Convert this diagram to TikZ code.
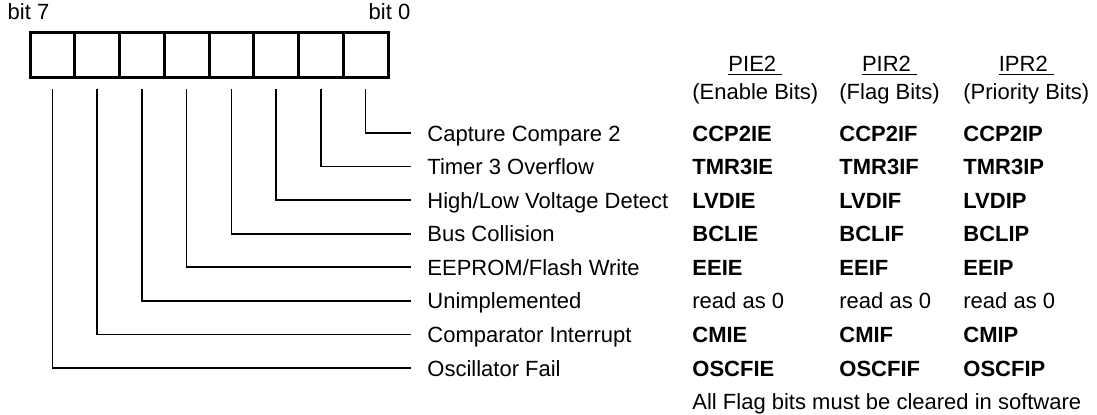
\documentclass[tikz,border=0pt]{standalone}
\usepackage{fontspec}
\setmainfont{Liberation Sans}
\usetikzlibrary{positioning}

\begin{document}
\begin{tikzpicture}[x=0.5pt,y=-0.5pt,
 every node/.style={font=\fontsize{11}{13}\selectfont,inner sep=0pt,
   text height=8pt,text depth=0pt},
 bitcell/.style={draw,line width=1.5pt,minimum width=22.375pt,minimum height=22.5pt},
 what/.style={anchor=west,inner xsep=8pt},
 flag/.style={anchor=west,font=\fontsize{11}{13}\selectfont\bfseries},
 wire/.style={line width=0.8pt}]
    \useasboundingbox (0,0) rectangle (1097,414);
    \foreach \b in {0,...,7}
        \node[bitcell] (c\b) at ({388-44.75*(\b+0.5)},54.5) {};
    \node[above=5.5pt of c7.north west] (bit7) {bit 7};
    \node[above=5.5pt of c0.north east] (bit0) {bit 0};
    \node[anchor=west] (sube) at (692,91) {(Enable Bits)};
    \node[anchor=west] (subf) at (839,91) {(Flag Bits)};
    \node[anchor=west] (subp) at (963,91) {(Priority Bits)};
    \node[above=5.5pt of sube] (pie) {\underline{PIE2\ }};
    \node[above=5.5pt of subf] (pir) {\underline{PIR2\ }};
    \node[above=5.5pt of subp] (ipr) {\underline{IPR2\ }};
    \foreach \b/\src/\en/\fl/\pr in {
        0/Capture Compare 2/CCP2IE/CCP2IF/CCP2IP,
        1/Timer 3 Overflow/TMR3IE/TMR3IF/TMR3IP,
        2/{High/Low Voltage Detect}/LVDIE/LVDIF/LVDIP,
        3/Bus Collision/BCLIE/BCLIF/BCLIP,
        4/{EEPROM/Flash Write}/EEIE/EEIF/EEIP,
        5/Unimplemented/\mdseries read as 0/\mdseries read as 0/\mdseries read as 0,
        6/Comparator Interrupt/CMIE/CMIF/CMIP,
        7/Oscillator Fail/OSCFIE/OSCFIF/OSCFIP} {
        \node[what] (l\b) at (411,{133+33.57*\b}) {\src};
        \node[flag] (e\b) at (692,{133+33.57*\b}) {\en};
        \node[flag] (f\b) at (839,{133+33.57*\b}) {\fl};
        \node[flag] (p\b) at (963,{133+33.57*\b}) {\pr};
        \draw[wire] (c\b.south) ++(0,10) |- (l\b.west);
    }
    \node[anchor=west] (note) at (692,401) {All Flag bits must be cleared in software};
\end{tikzpicture}
\end{document}
